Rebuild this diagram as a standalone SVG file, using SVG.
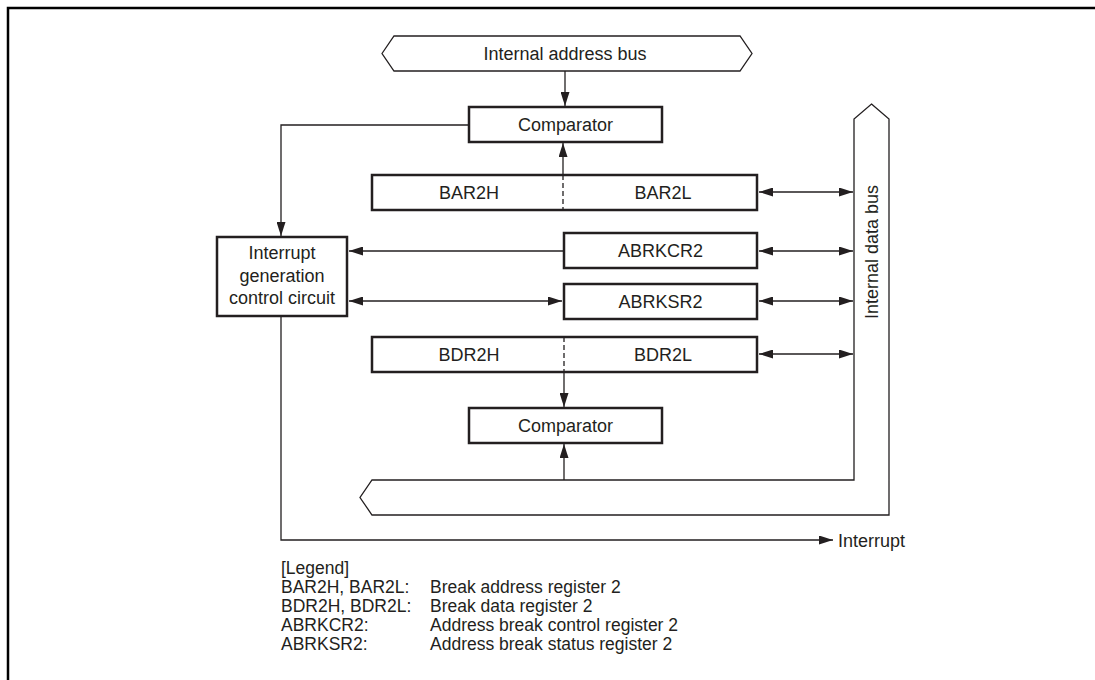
<svg xmlns="http://www.w3.org/2000/svg" width="1095" height="680" viewBox="0 0 1095 680">
<style>
text{font-family:"Liberation Sans",Arial,Helvetica,sans-serif;font-size:18px;fill:#231f20}
.c{text-anchor:middle}
.lg{font-size:17.5px}
.box{fill:#fff;stroke:#231f20;stroke-width:2.5}
.bus{fill:#fff;stroke:#231f20;stroke-width:1.3}
.ln{fill:none;stroke:#231f20;stroke-width:1.3}
.dash{fill:none;stroke:#231f20;stroke-width:1.3;stroke-dasharray:5,3}
.a1{marker-end:url(#ah)}
.a2{marker-start:url(#ah);marker-end:url(#ah)}
</style>
<defs>
<marker id="ah" viewBox="0 0 14 9" refX="14" refY="4.5" markerWidth="14" markerHeight="9" markerUnits="userSpaceOnUse" orient="auto-start-reverse">
<path d="M0,0 L14,4.5 L0,9 z" fill="#231f20"/>
</marker>
</defs>
<rect x="8" y="8" width="1120" height="700" fill="#fff" stroke="#000" stroke-width="2.5"/>

<g id="address-bus">
<path class="bus" d="M382,53.5 L394,36 L740,36 L752,53.5 L740,71 L394,71 Z"/>
<text class="c" x="565" y="60">Internal address bus</text>
</g>

<g id="data-bus">
<path class="bus" d="M871.5,104 L889,119 L889,515 L372,515 L360,497.5 L372,480 L854,480 L854,119 Z"/>
<text class="c" x="877.5" y="252" transform="rotate(-90 877.5 252)">Internal data bus</text>
</g>

<g id="comparator-top">
<rect class="box" x="469" y="107" width="193" height="35"/>
<text class="c" x="565.5" y="131">Comparator</text>
</g>

<g id="bar2">
<rect class="box" x="372" y="175" width="385" height="35"/>
<line class="dash" x1="563" y1="175" x2="563" y2="210"/>
<text class="c" x="469" y="199">BAR2H</text>
<text class="c" x="663" y="199">BAR2L</text>
</g>

<g id="interrupt-ctrl">
<rect class="box" x="217" y="237" width="130" height="79"/>
<text class="c" x="282" y="259">Interrupt</text>
<text class="c" x="282" y="282">generation</text>
<text class="c" x="282" y="304">control circuit</text>
</g>

<g id="abrkcr2">
<rect class="box" x="564" y="233" width="193" height="35"/>
<text class="c" x="660.5" y="257">ABRKCR2</text>
</g>

<g id="abrksr2">
<rect class="box" x="564" y="284" width="193" height="35"/>
<text class="c" x="660.5" y="308">ABRKSR2</text>
</g>

<g id="bdr2">
<rect class="box" x="372" y="337" width="385" height="35"/>
<line class="dash" x1="564" y1="337" x2="564" y2="372"/>
<text class="c" x="469" y="361">BDR2H</text>
<text class="c" x="663" y="361">BDR2L</text>
</g>

<g id="comparator-bottom">
<rect class="box" x="469" y="408" width="193" height="35"/>
<text class="c" x="565.5" y="432">Comparator</text>
</g>

<g id="connectors">
<path class="ln a1" d="M565,71 V106"/>
<path class="ln a1" d="M563,175 V143"/>
<path class="ln a1" d="M469,125 H281 V236"/>
<path class="ln a2" d="M759,192 H853"/>
<path class="ln a1" d="M564,251 H349"/>
<path class="ln a2" d="M759,251 H853"/>
<path class="ln a2" d="M349,301 H562"/>
<path class="ln a2" d="M759,301 H853"/>
<path class="ln a2" d="M759,354 H853"/>
<path class="ln a1" d="M564,372 V407"/>
<path class="ln a1" d="M564,480 V444"/>
<path class="ln a1" d="M281,316 V540 H833"/>
</g>

<text x="838" y="547">Interrupt</text>

<g id="legend">
<text class="lg" x="281" y="574">[Legend]</text>
<text class="lg" x="281" y="593">BAR2H, BAR2L:</text>
<text class="lg" x="430" y="593">Break address register 2</text>
<text class="lg" x="281" y="612">BDR2H, BDR2L:</text>
<text class="lg" x="430" y="612">Break data register 2</text>
<text class="lg" x="281" y="631">ABRKCR2:</text>
<text class="lg" x="430" y="631">Address break control register 2</text>
<text class="lg" x="281" y="650">ABRKSR2:</text>
<text class="lg" x="430" y="650">Address break status register 2</text>
</g>
</svg>
